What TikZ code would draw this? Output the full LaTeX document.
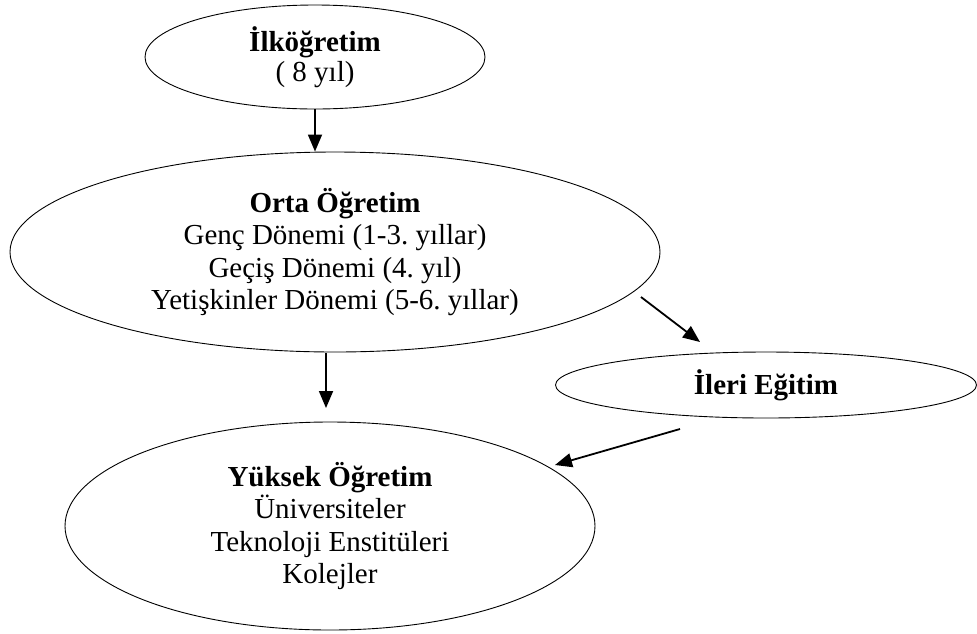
\documentclass[tikz,border=0pt]{standalone}
\usepackage{fontspec}
\setmainfont{Liberation Serif}
\usetikzlibrary{shapes.geometric,arrows.meta}
\frenchspacing
\begin{document}
\begin{tikzpicture}[x=1pt,y=-1pt,
  oval/.style={draw, ellipse, line width=0.9pt, inner sep=0pt, align=center,
    font=\fontsize{29}{32.5}\selectfont\frenchspacing},
  arr/.style={line width=1.8pt, -{Triangle[length=17pt,width=14pt]}}]
\useasboundingbox (0,0) rectangle (977,633);
\node[oval, minimum width=340pt, minimum height=104pt] (ilk) at (315,57)
  {\raisebox{-2pt}{\textbf{İlköğretim}}\\[-0.5pt]( 8 yıl)};
\node[oval, minimum width=650pt, minimum height=200pt] (orta) at (335,252)
  {\textbf{Orta Öğretim}\\Genç Dönemi (1-3. yıllar)\\Geçiş Dönemi (4. yıl)\\Yetişkinler Dönemi (5-6. yıllar)};
\node[oval, minimum width=421pt, minimum height=66pt] (ileri) at (766,385)
  {\textbf{İleri Eğitim}};
\node[oval, minimum width=530pt, minimum height=208pt] (yuk) at (330,526)
  {\textbf{Yüksek Öğretim}\\Üniversiteler\\Teknoloji Enstitüleri\\Kolejler};
\coordinate (a2s) at (326,353);
\coordinate (a2e) at (326,408);
\coordinate (a3s) at (641,297);
\coordinate (a3e) at (700,342);
\coordinate (a4s) at (680,429);
\coordinate (a4e) at (555,465);
\draw[arr] (ilk.south) -- (ilk.south |- orta.north);
\draw[arr] (a2s) -- (a2e);
\draw[arr] (a3s) -- (a3e);
\draw[arr] (a4s) -- (a4e);
\end{tikzpicture}
\end{document}
